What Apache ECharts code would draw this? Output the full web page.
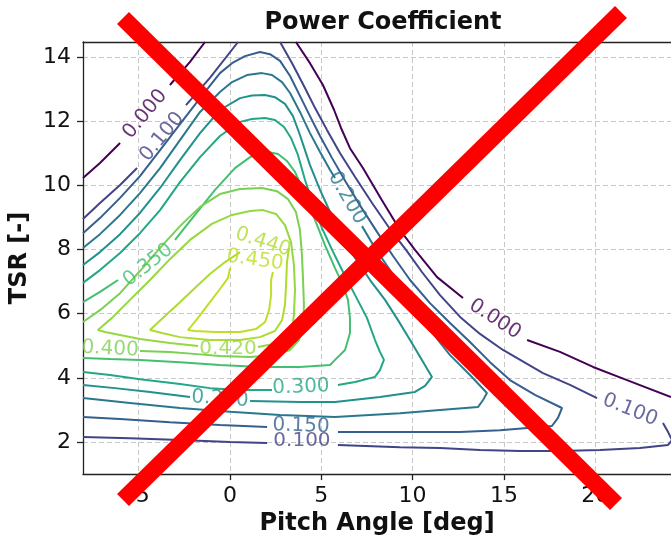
<!DOCTYPE html>
<html>
<head>
<meta charset="utf-8">
<script src="https://cdn.jsdelivr.net/npm/echarts@6/dist/echarts.min.js"></script>
<style>
html, body { margin: 0; padding: 0; background: #fff; }
#chart { width: 671px; height: 541px; }
</style>
</head>
<body>
<div id="chart"></div>
<script>
// contour levels of the power coefficient and their viridis colours
var levels = ['0.000', '0.100', '0.150', '0.200', '0.250', '0.300', '0.350', '0.400', '0.420', '0.440', '0.450'];
var levelColors = ['#440154', '#414487', '#355f8d', '#2a788e', '#21918c', '#22a884', '#44bf70', '#7ad151', '#95d840', '#addc30', '#bddf26'];

var xTicks = [-5, 0, 5, 10, 15, 20];
var yTicks = [2, 4, 6, 8, 10, 12, 14];

// contour pieces: [pitch deg, TSR]
var c000 = [
    [[-8.05, 10.23], [-7.12, 10.70], [-6.02, 11.32]],
    [[-3.29, 13.13], [-2.19, 13.85], [-1.37, 14.47]],
    [[3.61, 14.47], [4.38, 13.81], [5.09, 13.13], [5.70, 12.35], [6.08, 11.79], [6.57, 11.16], [7.28, 10.54], [8.32, 9.54], [9.31, 8.61], [10.13, 7.99], [11.34, 7.14], [12.76, 6.49]],
    [[16.27, 5.18], [18.07, 4.81], [19.88, 4.34], [21.74, 3.93], [24.15, 3.40]]
];
var c100 = [
    [[-8.05, 8.95], [-7.12, 9.45], [-6.02, 10.01], [-5.09, 10.54]],
    [[-2.41, 12.50], [-1.10, 13.35], [0.44, 14.47]],
    [[2.74, 14.47], [3.40, 13.81], [4.05, 13.10], [4.66, 12.41], [5.31, 11.73], [6.02, 11.01], [6.85, 10.26], [7.78, 9.45], [8.76, 8.64], [9.64, 7.99], [10.51, 7.30], [11.50, 6.58], [12.60, 5.90], [13.69, 5.37], [14.95, 4.87], [17.14, 4.15], [18.62, 3.78], [20.10, 3.37]],
    [[23.71, 2.59], [23.99, 2.31], [24.21, 2.06], [23.99, 1.91], [22.45, 1.81], [20.26, 1.75], [18.07, 1.72], [15.88, 1.72], [13.69, 1.75], [11.50, 1.81], [9.31, 1.84], [5.91, 1.91]],
    [[2.03, 1.97], [0.00, 2.00], [-2.74, 2.06], [-5.48, 2.12], [-8.05, 2.16]]
];
var c150 = [
    [[-8.05, 8.51], [-7.12, 8.98], [-6.02, 9.61], [-4.93, 10.29], [-3.83, 11.10], [-2.74, 11.91], [-1.64, 12.72], [-0.55, 13.50], [0.11, 13.81], [0.82, 14.03], [1.64, 14.16], [2.19, 14.09], [2.74, 13.88], [3.29, 13.41], [3.83, 12.79], [4.38, 12.16], [4.93, 11.54], [5.59, 10.85], [6.35, 10.10], [7.17, 9.33], [8.05, 8.55], [8.93, 7.80], [9.86, 7.05], [10.95, 6.33], [12.05, 5.71], [13.14, 5.12], [14.24, 4.49], [15.33, 3.93], [16.70, 3.47], [18.18, 3.06], [17.96, 2.75], [17.63, 2.50], [14.79, 2.37], [12.60, 2.31], [9.31, 2.31], [5.91, 2.31]],
    [[2.03, 2.47], [-0.55, 2.53], [-3.29, 2.62], [-6.02, 2.72], [-8.05, 2.78]]
];
var c200 = [
    [[-8.05, 8.05], [-7.12, 8.48], [-6.02, 9.08], [-4.93, 9.76], [-3.83, 10.54], [-2.74, 11.41], [-1.64, 12.29], [-0.55, 12.91], [0.11, 13.22], [0.93, 13.44], [1.75, 13.50], [2.30, 13.44], [2.85, 13.22], [3.29, 12.88], [3.83, 12.29], [4.38, 11.63], [4.93, 11.04], [5.48, 10.48], [5.75, 10.23]],
    [[7.23, 8.73], [7.94, 8.05], [8.76, 7.36], [9.53, 6.68], [10.30, 6.02], [11.17, 5.34], [12.05, 4.71], [13.14, 4.09], [14.07, 3.53], [13.86, 3.31], [13.58, 3.09], [11.50, 3.00], [9.31, 2.90], [5.75, 2.78], [2.74, 2.84], [0.00, 2.94], [-2.74, 3.06], [-5.48, 3.22], [-8.05, 3.37]]
];
var c250 = [
    [[-8.05, 7.52], [-7.12, 7.92], [-6.02, 8.48], [-4.93, 9.14], [-3.83, 9.92], [-2.74, 10.79], [-1.64, 11.63], [-0.55, 12.35], [0.55, 12.72], [1.20, 12.80], [1.92, 12.82], [2.46, 12.75], [3.01, 12.54], [3.45, 12.16], [3.83, 11.57], [4.38, 10.63], [4.93, 9.86], [5.48, 9.17], [6.13, 8.45], [6.85, 7.74], [7.67, 7.05], [8.49, 6.43], [9.20, 5.80], [9.86, 5.18], [10.51, 4.56], [11.06, 4.03], [10.68, 3.75], [10.13, 3.56], [8.21, 3.40], [5.75, 3.25], [3.83, 3.25], [1.10, 3.28]],
    [[-2.19, 3.40], [-4.38, 3.56], [-6.30, 3.68], [-8.05, 3.78]]
];
var c300 = [
    [[-8.05, 6.96], [-7.12, 7.36], [-6.02, 7.89], [-4.93, 8.51], [-3.83, 9.23], [-2.74, 10.10], [-1.64, 10.88], [-0.55, 11.54], [0.55, 11.98], [1.20, 12.07], [1.92, 12.10], [2.46, 12.04], [2.96, 11.82], [3.34, 11.48], [3.72, 10.95], [4.11, 10.17], [4.55, 9.39], [5.04, 8.67], [5.59, 7.99], [6.19, 7.30], [6.85, 6.58], [7.50, 5.87], [7.94, 5.18], [8.21, 4.81], [8.43, 4.56], [8.21, 4.24], [7.94, 4.03], [6.85, 3.87], [5.91, 3.78]],
    [[2.30, 3.62], [0.55, 3.62], [-1.10, 3.68], [-2.74, 3.81], [-4.93, 3.96], [-6.57, 4.09], [-8.05, 4.18]]
];
var c350 = [
    [[-8.05, 6.36], [-7.12, 6.68], [-6.13, 7.05]],
    [[-3.01, 8.30], [-1.92, 9.08], [-0.82, 9.86], [0.27, 10.54], [1.10, 10.88], [1.53, 10.99], [2.08, 11.04], [2.63, 10.98], [3.12, 10.76], [3.56, 10.42], [4.11, 9.70], [4.66, 8.92], [5.20, 8.14], [5.75, 7.42], [6.19, 6.89], [6.46, 6.43], [6.57, 5.87], [6.57, 5.40], [6.30, 4.87], [5.75, 4.56], [5.48, 4.40], [3.83, 4.34], [1.64, 4.34], [-0.55, 4.40], [-2.74, 4.49], [-4.93, 4.56], [-6.57, 4.59], [-8.05, 4.62]]
];
var c400 = [
    [[-8.05, 5.74], [-7.12, 6.11], [-6.02, 6.64], [-4.93, 7.33], [-3.83, 8.05], [-2.74, 8.73], [-1.64, 9.33], [-0.55, 9.73], [0.55, 9.89], [1.75, 9.92], [2.57, 9.82], [3.18, 9.57], [3.61, 9.17], [3.83, 8.61], [3.94, 7.83], [4.00, 7.05], [4.05, 6.27], [4.00, 5.65], [3.78, 5.18], [3.29, 4.87], [2.46, 4.71], [1.10, 4.65], [-0.55, 4.68], [-1.81, 4.74], [-3.29, 4.81], [-4.93, 4.84]]
];
var c420 = [
    [[1.53, 4.96], [2.30, 5.05], [3.01, 5.21], [3.40, 5.49], [3.50, 5.96], [3.56, 6.74], [3.50, 7.52], [3.34, 8.23], [3.01, 8.76], [2.52, 9.11], [1.81, 9.23], [1.10, 9.20], [0.11, 9.08], [-0.99, 8.80], [-2.19, 8.30], [-3.29, 7.70], [-4.38, 7.05], [-5.48, 6.43], [-6.46, 5.87], [-7.12, 5.55], [-7.23, 5.49], [-6.85, 5.43], [-6.30, 5.37], [-4.93, 5.21], [-3.29, 5.09], [-1.75, 4.99]]
];
var c440 = [
    [[0.55, 7.92], [-0.27, 7.61], [-1.10, 7.24], [-1.92, 6.80], [-2.74, 6.36], [-3.56, 5.93], [-4.38, 5.49], [-3.72, 5.40], [-2.74, 5.27], [-1.10, 5.18], [0.55, 5.18], [1.64, 5.27], [2.46, 5.46], [2.85, 5.80], [3.01, 6.27], [3.07, 6.89], [3.12, 7.61], [3.23, 8.05]]
];
var c450 = [
    [[0.00, 7.42], [-0.11, 7.11], [-0.55, 6.77], [-1.10, 6.36], [-1.75, 5.87], [-2.30, 5.49], [-1.92, 5.46], [-0.82, 5.43], [0.55, 5.43], [1.42, 5.52], [1.92, 5.74], [2.14, 6.11], [2.25, 6.58], [2.25, 7.05], [2.35, 7.30]]
];
var contours = [c000, c100, c150, c200, c250, c300, c350, c400, c420, c440, c450];

// inline contour labels: [pitch, TSR, level index]
var labelSpots = [
    [-4.65, 12.22, 0], [14.51, 5.83, 0],
    [-3.72, 11.51, 1], [21.91, 3.00, 1], [3.94, 2.03, 1],
    [3.89, 2.50, 2],
    [6.41, 9.61, 3],
    [-0.55, 3.34, 4],
    [3.89, 3.71, 5],
    [-4.49, 7.52, 6],
    [-6.57, 4.90, 7],
    [-0.11, 4.90, 8],
    [1.81, 8.23, 9],
    [1.37, 7.67, 10]
];
var labelAngles = [50, -33, 50, -22, 0, -2, -60, -4, 2, 38, -3, 0, -18, -8];

var chart = echarts.init(document.getElementById('chart'));

var series = [];
contours.forEach(function (pieces, li) {
    pieces.forEach(function (piece) {
        series.push({
            type: 'line',
            data: piece,
            showSymbol: false,
            symbol: 'none',
            silent: true,
            clip: true,
            lineStyle: { color: levelColors[li], width: 2 },
            z: 3
        });
    });
});

series.push({
    type: 'scatter',
    symbolSize: 0,
    silent: true,
    z: 4,
    data: labelSpots.map(function (s, i) {
        return {
            value: [s[0], s[1]],
            label: {
                show: true,
                position: 'inside',
                formatter: levels[s[2]],
                rotate: labelAngles[i],
                color: levelColors[s[2]],
                fontSize: 20,
                fontFamily: 'DejaVu Sans'
            }
        };
    })
});

var gridLine = { show: true, lineStyle: { color: '#c8c8c8', type: [5, 3], width: 1 } };
var tickFont = { fontSize: 22, fontFamily: 'DejaVu Sans', color: '#111' };
var boldFont = { fontSize: 24, fontWeight: 'bold', fontFamily: 'DejaVu Sans', color: '#111' };

var option = {
    backgroundColor: '#fff',
    animation: false,
    title: {
        text: 'Power Coefficient',
        left: 378,
        textAlign: 'center',
        top: 6,
        textStyle: boldFont
    },
    grid: { left: 83, right: 0, top: 42, bottom: 66 },
    xAxis: [{
        type: 'value',
        min: -8.05,
        max: 24.15,
        name: 'Pitch Angle [deg]',
        nameLocation: 'middle',
        nameGap: 35,
        nameTextStyle: boldFont,
        axisLine: { show: true, onZero: false, lineStyle: { color: '#222', width: 1.3 } },
        axisTick: { show: true, length: 6, customValues: xTicks, lineStyle: { color: '#222', width: 1.3 } },
        axisLabel: Object.assign({ margin: 11, customValues: xTicks }, tickFont),
        splitLine: gridLine
    }, {
        type: 'value',
        position: 'top',
        min: -8.05,
        max: 24.15,
        axisLine: { show: true, onZero: false, lineStyle: { color: '#222', width: 1.3 } },
        axisTick: { show: false },
        axisLabel: { show: false },
        splitLine: { show: false }
    }],
    yAxis: {
        type: 'value',
        min: 1,
        max: 14.47,
        name: 'TSR [-]',
        nameLocation: 'middle',
        nameGap: 48,
        nameTextStyle: boldFont,
        axisLine: { show: true, onZero: false, lineStyle: { color: '#222', width: 1.3 } },
        axisTick: { show: true, length: 6, customValues: yTicks, lineStyle: { color: '#222', width: 1.3 } },
        axisLabel: Object.assign({ margin: 12, customValues: yTicks }, tickFont),
        splitLine: gridLine
    },
    graphic: [
        { type: 'line', z: 100, shape: { x1: 123, y1: 18, x2: 616, y2: 504 }, style: { stroke: '#ff0000', lineWidth: 17 } },
        { type: 'line', z: 100, shape: { x1: 621, y1: 12, x2: 123, y2: 500 }, style: { stroke: '#ff0000', lineWidth: 17 } }
    ],
    series: series
};

chart.setOption(option);
window.addEventListener('resize', function () {
    chart.resize();
});
</script>
</body>
</html>
